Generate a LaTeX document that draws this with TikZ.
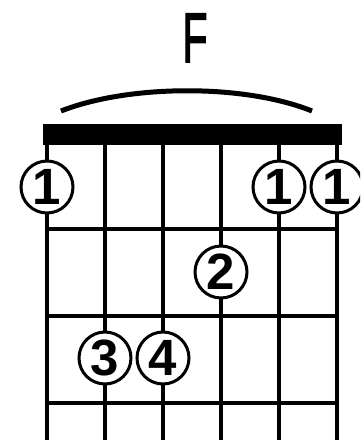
\documentclass[tikz,border=0pt]{standalone}
\usepackage{fontspec}
\setsansfont{Liberation Sans}
\usetikzlibrary{positioning}

\begin{document}
\begin{tikzpicture}[
    x=1pt, y=-1pt,
    stringwire/.style={draw=black, line width=4pt},
    fretbar/.style={draw=black, line width=4.5pt},
    barre/.style={draw=black, line width=5pt},
    chordname/.style={font=\fontsize{70}{70}\sffamily\addfontfeature{FakeBold=2.5}, inner sep=0pt, anchor=base},
    finger/.style={circle, draw=black, fill=white, line width=3pt,
                   minimum size=52pt, inner sep=0pt,
                   font=\fontsize{51}{51}\sffamily\bfseries}
]

% Page
\clip (0,0) rectangle (360,440);
\fill[white] (0,0) rectangle (360,440);

% Chord name and barre arc
\node[chordname] (name) at (195,62) {\scalebox{0.58}[1]{F}};
\draw[barre] (61,111) .. controls (130,84) and (245,84) .. (312,111);

% Nut
\fill[black] (43,124) rectangle (342,145);

% Frets
\foreach \y in {229,316,403}
    \draw[fretbar] (45,\y) -- (339,\y);

% Strings
\foreach \s in {0,...,5}
    \draw[stringwire] (47+58*\s,140) -- (47+58*\s,440);

% Fingers
\node[finger] (oneA) at (47,187) {1};
\node[finger] (oneB) at (279,187) {1};
\node[finger] (oneC) at (337,187) {1};
\node[finger] (two) at (221,272) {2};
\node[finger] (three) at (105,358) {3};
\node[finger] (four) at (163,358) {4};

\end{tikzpicture}
\end{document}
